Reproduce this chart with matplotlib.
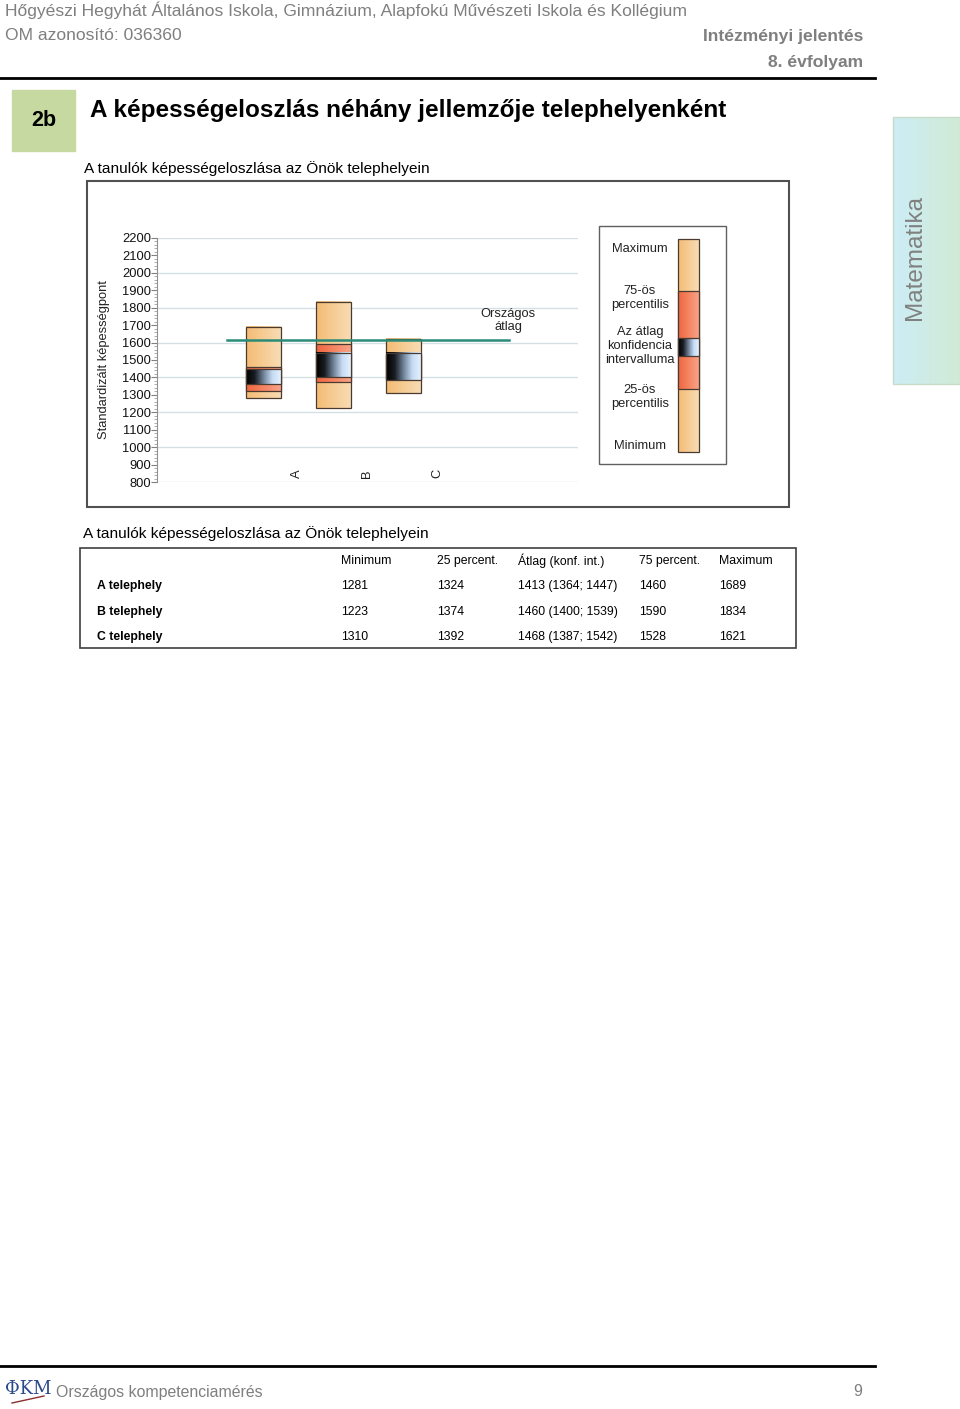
import numpy as np
import matplotlib
matplotlib.use("Agg")
import matplotlib.pyplot as plt
from matplotlib.patches import Rectangle
from matplotlib.colors import LinearSegmentedColormap

plt.rcParams['font.family'] = ['Liberation Sans', 'DejaVu Sans']

sites = ["A", "B", "C"]
site_rows = ["A telephely", "B telephely", "C telephely"]
minimum = [1281, 1223, 1310]
p25 = [1324, 1374, 1392]
mean = [1413, 1460, 1468]
ci_low = [1364, 1400, 1387]
ci_high = [1447, 1539, 1542]
p75 = [1460, 1590, 1528]
maximum = [1689, 1834, 1621]
national_avg = 1615
col_heads = ["Minimum", "25 percent.", "Átlag (konf. int.)", "75 percent.", "Maximum"]

W, H = 960, 1409
fig = plt.figure(figsize=(W / 100, H / 100), dpi=100)
page = fig.add_axes([0, 0, 1, 1])
page.set_xlim(0, W)
page.set_ylim(H, 0)
page.axis("off")


def px_axes(x0, y0, x1, y1):
    return fig.add_axes([x0 / W, 1 - y1 / H, (x1 - x0) / W, (y1 - y0) / H])


orange = LinearSegmentedColormap.from_list("o", ["#F4BC74", "#F8DCB4"])
red = LinearSegmentedColormap.from_list("r", ["#F0663F", "#F8A286"])
dark = LinearSegmentedColormap.from_list("d", ["#000000", "#1A1E24", "#6E8196", "#C4DAF2", "#E4F1FF"])
grad = np.linspace(0, 1, 64).reshape(1, -1)
edge = "#4A3A30"


def grad_rect(a, x0, x1, y0, y1, cmap, z=2, lw=0.9):
    a.imshow(grad, cmap=cmap, extent=(x0, x1, y0, y1), aspect="auto",
             interpolation="bilinear", zorder=z)
    a.add_patch(Rectangle((x0, y0), x1 - x0, y1 - y0, fill=False,
                          edgecolor=edge, lw=lw, zorder=z + 0.5))


# ---- page header ----
gray = "#7F7F7F"
page.text(5, 10, "Hőgyészi Hegyhát Általános Iskola, Gimnázium, Alapfokú Művészeti Iskola és Kollégium",
          fontsize=12.6, color=gray, va="center", ha="left")
page.text(5, 36, "OM azonosító: 036360", fontsize=12.6, color=gray, va="center")
page.text(863, 36, "Intézményi jelentés", fontsize=12.6, color=gray, va="center", ha="right",
          fontweight="bold")
page.text(863, 62, "8. évfolyam", fontsize=12.6, color=gray, va="center", ha="right",
          fontweight="bold")
page.plot([0, 875], [78, 78], color="black", lw=2)

page.add_patch(Rectangle((12, 90), 63, 61, color="#C6D9A0"))
page.text(43.5, 121, "2b", fontsize=15.5, fontweight="bold", ha="center", va="center")
page.text(90, 111, "A képességeloszlás néhány jellemzője telephelyenként", fontsize=17.5,
          fontweight="bold", va="center")
page.text(84, 169, "A tanulók képességeloszlása az Önök telephelyein", fontsize=11.1, va="center")

# side tab
tab = np.zeros((40, 20, 3))
c_left = np.array([0.80, 0.93, 0.96])
c_right = np.array([0.82, 0.92, 0.84])
for j in range(20):
    t = j / 19
    tab[:, j, :] = c_left * (1 - t) + c_right * t
page.imshow(tab, extent=(893, 960, 384, 117), aspect="auto", interpolation="bilinear", zorder=1)
page.add_patch(Rectangle((893, 117), 67, 267, fill=False, edgecolor="#C8DCC8", lw=1, zorder=2))
page.text(915, 257, "Matematika", rotation=90, fontsize=17.5, color="#808080", ha="center",
          va="center", zorder=3)

# chart frame
page.add_patch(Rectangle((87, 181), 702, 326, fill=False, edgecolor="#505050", lw=1.5))

# ---- main chart ----
ax = px_axes(156.7, 237.7, 578, 482.3)
pos = np.arange(1, len(sites) + 1)
bw = 0.5
for g in range(800, 2201, 200):
    ax.axhline(g, color="#D5E0E3", lw=1, zorder=0)
for i, x in enumerate(pos):
    x0, x1 = x - bw / 2, x + bw / 2
    grad_rect(ax, x0, x1, minimum[i], maximum[i], orange, z=2)
    grad_rect(ax, x0, x1, p25[i], p75[i], red, z=3)
    grad_rect(ax, x0, x1, ci_low[i], ci_high[i], dark, z=4)
    ax.text(x + 0.49, 826, sites[i], rotation=90, ha="center", va="bottom", fontsize=9.3,
            color="#222222")
ax.plot([pos[0] - 0.52, pos[-1] + 1.51], [national_avg, national_avg], color="#2A8C78",
        lw=1.8, zorder=6)
ax.text(pos[-1] + 1.5, national_avg + 110, "Országos\nátlag", ha="center", va="center",
        fontsize=9.3, color="#222222", linespacing=1.15)

ax.set_xlim(-0.52, 5.5)
ax.set_ylim(800, 2200)
ax.set_yticks(range(800, 2201, 100))
ax.set_yticks(range(800, 2201, 20), minor=True)
ax.tick_params(axis="y", which="major", length=4, color="#808080", labelsize=9.3, pad=0,
               labelcolor="#111111")
ax.tick_params(axis="y", which="minor", length=2, color="#A0A0A0")
ax.set_xticks([])
for s in ["top", "right", "bottom"]:
    ax.spines[s].set_visible(False)
ax.spines["left"].set_color("#909090")
ax.set_facecolor("none")
ax.set_ylabel("Standardizált képességpont", fontsize=9.3, color="#222222")
ax.yaxis.set_label_coords(-0.11, 0.5)

# ---- legend key ----
page.add_patch(Rectangle((599, 226), 127, 238, fill=False, edgecolor="#606060", lw=1))
grad_rect(page, 678, 699, 452, 239, orange, z=2)
grad_rect(page, 678, 699, 389, 291, red, z=3)
grad_rect(page, 678, 699, 356, 338, dark, z=4)
for ty, txt in [(249, "Maximum"), (298, "75-ös\npercentilis"),
                (346, "Az átlag\nkonfidencia\nintervalluma"), (397, "25-ös\npercentilis"),
                (446, "Minimum")]:
    page.text(640, ty, txt, ha="center", va="center", fontsize=9.3, color="#222222",
              linespacing=1.2)

# ---- table ----
page.text(83, 534, "A tanulók képességeloszlása az Önök telephelyein", fontsize=11.1, va="center")
page.add_patch(Rectangle((80, 548), 716, 100, fill=False, edgecolor="#404040", lw=1.2))
col_x = [341, 437, 518, 639, 719]
for cx, h in zip(col_x, col_heads):
    page.text(cx, 561, h, fontsize=8.8, va="center")
row_y = [586, 612, 637]
for r, ry in enumerate(row_y):
    page.text(97, ry, site_rows[r], fontsize=8.8, fontweight="bold", va="center")
    vals = [str(minimum[r]), str(p25[r]), f"{mean[r]} ({ci_low[r]}; {ci_high[r]})",
            str(p75[r]), str(maximum[r])]
    for cx, v in zip(col_x, vals):
        page.text(cx, ry, v, fontsize=8.8, va="center")

# ---- footer ----
page.plot([0, 875], [1366, 1366], color="black", lw=2)
page.text(5, 1389, "ΦKM", fontsize=13, color="#2B4A8C", family="DejaVu Serif", va="center")
page.plot([12, 44], [1403, 1396], color="#8B2E2E", lw=1)
page.text(56, 1392, "Országos kompetenciamérés", fontsize=11.4, color=gray, va="center")
page.text(858, 1392, "9", fontsize=11.4, color=gray, va="center", ha="center")

fig.savefig("out.png", dpi=100)
